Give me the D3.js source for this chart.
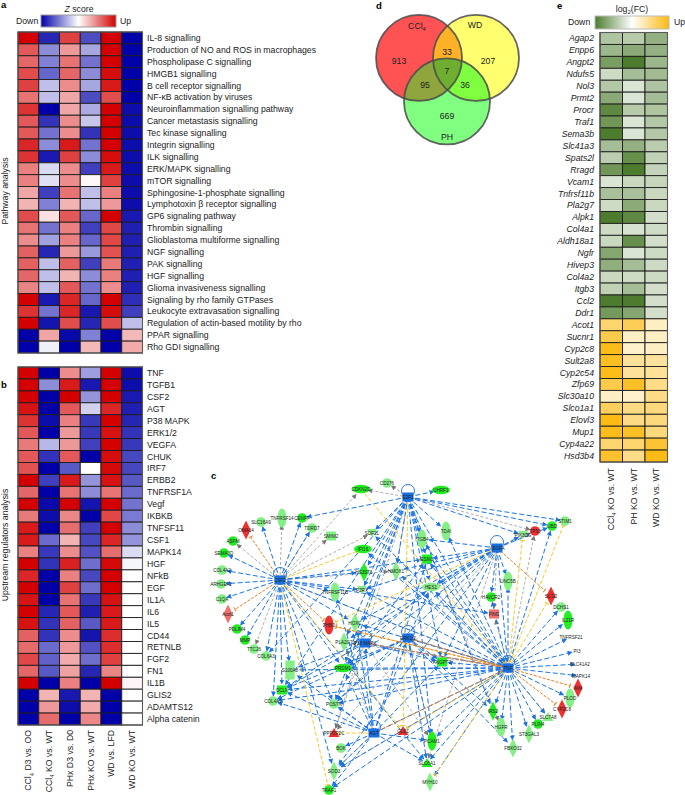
<!DOCTYPE html>
<html><head><meta charset="utf-8">
<script src="https://cdn.jsdelivr.net/npm/d3@7/dist/d3.min.js"></script>
<style>html,body{margin:0;padding:0;background:#fff}svg{display:block;font-family:"Liberation Sans",Arial,sans-serif}</style>
</head><body><svg id="c" width="685" height="795"></svg>
<script>
const pathways=["IL-8 signalling","Production of NO and ROS in macrophages","Phospholipase C signalling","HMGB1 signalling","B cell receptor signalling","NF-κB activation by viruses","Neuroinflammation signalling pathway","Cancer metastasis signalling","Tec kinase signalling","Integrin signalling","ILK signalling","ERK/MAPK signalling","mTOR signalling","Sphingosine-1-phosphate signalling","Lymphotoxin β receptor signalling","GP6 signaling pathway","Thrombin signalling","Glioblastoma multiforme signalling","NGF signalling","PAK signalling","HGF signalling","Glioma invasiveness signalling","Signaling by rho family GTPases","Leukocyte extravasation signalling","Regulation of actin-based motility by rho","PPAR signalling","Rho GDI signalling"];
const pathwayZ=[[1,-.85,.75,-.7,1,-1],[.65,-.45,.4,-.35,1,-1],[.6,-.5,.55,-.55,1,-1],[.7,-.6,.6,-.45,.95,-1],[.75,-.25,.45,-.35,.9,-1],[.55,-.25,.35,-.7,.7,-1],[.8,-1,.35,-.33,1,-.95],[.65,-.8,.45,-.22,1,-.95],[.65,-.55,.45,-.8,1,-.95],[.85,-.45,.9,-.55,1,-.95],[.8,-.9,.75,-.45,.95,-.95],[.5,-.15,.45,-.75,.9,-.95],[.5,-.12,.45,.03,.75,-.95],[.35,-.75,.55,-.25,.5,-.95],[.3,-.5,.3,-.25,.4,-.95],[.7,.12,.65,-.6,1,-.9],[.55,-.55,.5,-.75,.72,-.88],[.45,-.37,.5,-.6,.72,-.88],[.62,-.85,.4,-.4,.68,-.88],[.62,-.25,.62,-.75,.52,-.88],[.6,-.25,.3,-.45,.5,-.88],[.48,-.25,.65,-.55,.45,-.88],[1,-.9,.85,-.6,1,-.82],[.8,-.55,.85,-.9,.95,-.75],[1,-.92,.7,-.85,.7,-.25],[-1,.35,-.97,-.5,-1,.28],[-1,-.06,-1,.28,-1,.33]];
const regulators=["TNF","TGFB1","CSF2","AGT","P38 MAPK","ERK1/2","VEGFA","CHUK","IRF7","ERBB2","TNFRSF1A","Vegf","IKBKB","TNFSF11","CSF1","MAPK14","HGF","NFkB","EGF","IL1A","IL6","IL5","CD44","RETNLB","FGF2","FN1","IL1B","GLIS2","ADAMTS12","Alpha catenin"];
const regulatorZ=[[1,-1,.45,-.38,1,-.95],[1,-.45,.9,-.9,1,-.95],[1,-1,1,-.42,1,-.9],[.93,-1,.65,-.18,.85,-.88],[.8,-.95,.5,-.78,1,-.85],[.65,-1,.4,-.78,.93,-.8],[.52,-.28,.4,-.75,1,-.78],[.65,-.8,.65,-1,.95,-.72],[.68,-1,-.65,0,.97,-.72],[1,-.75,.9,-.42,.93,-.65],[.6,-1,.55,-.45,.55,-.58],[1,-.97,1,-.92,1,-.55],[.52,-.95,.47,-1,.72,-.52],[.9,-1,.57,-.75,1,-.45],[.9,-.58,.3,-.72,.85,-.42],[.5,-.78,.45,-.68,.57,-.14],[1,-.8,.87,-.57,.97,-.04],[.85,-1,.5,-.72,1,0],[1,-1,.75,-.57,1,0],[.92,-1,.55,-.78,.93,0],[1,-.85,.65,-.88,.9,0],[.93,-.8,.62,-.65,.9,0],[.62,-.8,.45,-.92,.82,0],[.58,-.58,.4,-.68,.82,0],[.72,-.62,.33,-.57,.75,0],[.6,-.65,.37,-.85,.48,0],[1,-1,.5,-1,1,.04],[-1,.3,-.9,.3,-1,0],[-1,.4,-.95,.33,-1,0],[-1,.58,-1,.47,-1,0]];
const comparisons=[["CCl","4"," D3 vs. OO"],["CCl","4"," KO vs. WT"],["PHx D3 vs. D0"],["PHx KO vs. WT"],["WD vs. LFD"],["WD KO vs. WT"]];
const genes=["Agap2","Enpp6","Angpt2","Ndufs5","Nol3","Prmt2","Procr","Traf1","Sema3b","Slc41a3","Spats2l","Rragd","Vcam1","Tnfrsf11b","Pla2g7","Alpk1","Col4a1","Aldh18a1","Ngfr","Hivep3","Col4a2","Itgb3","Ccl2","Ddr1","Acot1","Sucnr1","Cyp2c8","Sult2a8","Cyp2c54","Zfp69","Slc30a10","Slco1a1","Elovl3","Mup1","Cyp4a22","Hsd3b4"];
const geneFC=[[-.45,-.4,-.6],[-.55,-.65,-.6],[-.75,-1,-.55],[-.28,-.5,-.52],[-.42,-.2,-.45],[-.65,-.2,-.5],[-.9,-.4,-.45],[-.8,-.2,-.42],[-1,-.2,-.42],[-.5,-.6,-.38],[-.38,-.85,-.35],[-.8,-1,-.33],[-.2,-.3,-.32],[-.48,-.48,-.3],[-.28,-.65,-.3],[-1,-.9,-.25],[-.28,-.22,-.27],[-.3,-.85,-.25],[-.68,-.2,-.28],[-.62,-.5,-.28],[-.3,-.28,-.28],[-.35,-.5,-.25],[-1,-1,-.25],[-.78,-.68,-.25],[.6,.7,.25],[.75,.25,.25],[.95,.22,.25],[.92,.42,.4],[.95,.42,.42],[.75,.9,.5],[.25,.22,.5],[.68,.52,.55],[.98,.52,.55],[.95,.9,.55],[.6,.6,.85],[.88,.5,.98]];
const geneComparisons=[["CCl","4"," KO vs. WT"],["PH KO vs. WT"],["WD KO vs. WT"]];
const vennCounts=[913,207,669,33,95,36,7];
const vennSets=["CCl4","WD","PH"];
// network: name, layout x, layout y, shape, regulation class
const netNodes=[
["CSF2",80,100,"hub","h"],["E2F1",208,17,"hub","h"],["VEGFA",297,68,"hub","h"],["TNF",308,188,"hub","h"],["AGT",174,253,"hub","h"],["P38 MAPK",165,163,"hub","h"],["ERK1/2",208,158,"hub","h"],
["CDKN2D",161,9,"ew","u"],["CD276",187,3,"c","l"],["SLC16A9",61,42,"c","l"],["TNFRSF14",82,38,"et","l"],["CENPF",102,38,"c","u"],["TDRD7",112,48,"c","l"],["SMIM2",131,56,"r","l"],["OMA14",46,50,"d","r"],["ASPM",33,61,"c","u"],["SEMA3D",24,73,"c","u"],["COL4A2",22,90,"c","l"],["ARHGEF2",21,104,"c","l"],["C1QA",22,119,"c","l"],["Acot1",28,134,"d","p"],["PDLIM4",37,149,"c","u"],["MMP",45,160,"c","u"],["TTC26",54,169,"c","l"],["COL6A3",66,176,"c","l"],["S100A8",90,190,"rt","l"],["OCLN",82,210,"r","u"],["COL4A1",73,221,"c","l"],["POSTN",134,224,"c","l"],["PRDM1",143,188,"ew","u"],["PPP2R2C",134,253,"t","r"],["BOK",141,268,"c","l"],["SOD3",134,291,"d","l"],["TRAF1",129,310,"c","u"],["PLA2G7",144,162,"d","l"],["THBD",129,145,"et","r"],["HOXC",155,143,"d","l"],["TNFRSF11B",135,112,"et","l"],["P2RX",162,110,"v","l"],["IFI16",163,69,"ew","u"],["HS3ST1",164,92,"d","u"],["SDF2L",172,53,"v","l"],
["UHRF1",241,10,"ew","u"],["ITGB4",222,59,"et","l"],["TDAI",246,51,"et","l"],["ESM1",227,79,"r","u"],["HMOX1",196,91,"d","l"],["HES1",231,107,"ew","l"],["PIK3CG",323,55,"v","l"],["TP53",335,51,"c","r"],["UBD",352,46,"c","u"],["STIM1",365,41,"c","l"],["UNC5B",308,101,"et","l"],["HAVCR2",291,117,"c","u"],["PIM2",294,134,"r","p"],["SCG2",351,116,"d","r"],["DCHS1",361,127,"c","l"],["IL21R",368,140,"et","u"],["TNFRSF21",371,157,"c","w"],["PI3",377,171,"c","w"],["SLC41A2",380,184,"c","w"],["MAPK14",381,196,"c","w"],["AIM",378,208,"d","r"],["PLOD",370,218,"et","l"],["CYP2C8",362,229,"d","r"],["SLC7A8",348,237,"t","l"],["PLIN4",338,244,"c","u"],["ST3GAL3",329,254,"d","l"],["HGFR",301,247,"et","l"],["IRS2",293,231,"d","u"],["FBXO32",313,268,"d","l"],["MYH10",230,302,"d","l"],["SLC6A1",227,283,"t","u"],["PCAM1",232,261,"et","u"],["GLB1",203,251,"t","r"],["ANGPT2",242,182,"r","u"]];
const blueEdges=[["CSF2","SEMA3D"],["CSF2","COL4A2"],["CSF2","ARHGEF2"],["CSF2","C1QA"],["CSF2","PDLIM4"],["CSF2","MMP"],["CSF2","SLC16A9"],["CSF2","CENPF"],["CSF2","TDRD7"],["CSF2","COL6A3"],["CSF2","S100A8"],["CSF2","OCLN"],["CSF2","COL4A1"],["CSF2","TNFRSF11B"],["CSF2","POSTN"],["CSF2","PRDM1"],["CSF2","P2RX"],["CSF2","HS3ST1"],["CSF2","HOXC"],["CSF2","PIM2"],["CSF2","ESM1"],["CSF2","TNF"],["CSF2","SOD3"],["CSF2","SLC6A1"],
["E2F1","CENPF"],["E2F1","SDF2L"],["E2F1","HMOX1"],["E2F1","ITGB4"],["E2F1","TDAI"],["E2F1","ESM1"],["E2F1","UHRF1"],["E2F1","POSTN"],["E2F1","PRDM1"],["E2F1","HES1"],["E2F1","ANGPT2"],["E2F1","P2RX"],["E2F1","TNF"],["E2F1","STIM1"],["E2F1","UBD"],["E2F1","PIK3CG"],["E2F1","HS3ST1"],["E2F1","OCLN"],["E2F1","IRS2"],["E2F1","PCAM1"],["E2F1","COL6A3"],["E2F1","PLA2G7"],
["VEGFA","ESM1"],["VEGFA","HES1"],["VEGFA","ITGB4"],["VEGFA","UNC5B"],["VEGFA","HAVCR2"],["VEGFA","PIK3CG"],["VEGFA","UBD"],["VEGFA","OCLN"],["VEGFA","PRDM1"],["VEGFA","HMOX1"],["VEGFA","POSTN"],["VEGFA","SOD3"],["VEGFA","HOXC"],["VEGFA","P2RX"],["VEGFA","TNF"],["VEGFA","ANGPT2"],["VEGFA","PLA2G7"],
["TNF","ITGB4"],["TNF","TDAI"],["TNF","ESM1"],["TNF","HES1"],["TNF","HMOX1"],["TNF","UNC5B"],["TNF","HAVCR2"],["TNF","DCHS1"],["TNF","IL21R"],["TNF","TNFRSF21"],["TNF","PI3"],["TNF","SLC41A2"],["TNF","MAPK14"],["TNF","PLOD"],["TNF","SLC7A8"],["TNF","PLIN4"],["TNF","ST3GAL3"],["TNF","HGFR"],["TNF","IRS2"],["TNF","FBXO32"],["TNF","PCAM1"],["TNF","SLC6A1"],["TNF","ANGPT2"],["TNF","PRDM1"],["TNF","POSTN"],["TNF","OCLN"],["TNF","S100A8"],["TNF","COL4A1"],["TNF","SOD3"],["TNF","TRAF1"],["TNF","UBD"],["TNF","MYH10"],["TNF","P2RX"],["TNF","HOXC"],["TNF","IFI16"],["TNF","SDF2L"],
["AGT","COL4A1"],["AGT","OCLN"],["AGT","POSTN"],["AGT","PRDM1"],["AGT","BOK"],["AGT","SOD3"],["AGT","TRAF1"],["AGT","ESM1"],["AGT","ANGPT2"],["AGT","TNF"],["AGT","HOXC"],["AGT","P38 MAPK"],["AGT","PCAM1"],["AGT","TNFRSF11B"],["AGT","ERK1/2"],["AGT","S100A8"],["AGT","SLC6A1"],
["P38 MAPK","PRDM1"],["P38 MAPK","OCLN"],["P38 MAPK","POSTN"],["P38 MAPK","HOXC"],["P38 MAPK","ANGPT2"],["P38 MAPK","S100A8"],["P38 MAPK","HES1"],["P38 MAPK","ESM1"],["P38 MAPK","TNF"],
["ERK1/2","PRDM1"],["ERK1/2","ANGPT2"],["ERK1/2","OCLN"],["ERK1/2","POSTN"],["ERK1/2","SLC6A1"],["ERK1/2","PCAM1"],["ERK1/2","HES1"],["ERK1/2","FBXO32"],["ERK1/2","TNF"],["ERK1/2","COL4A1"],["ERK1/2","IRS2"]];
const grayEdges=[["CSF2","ASPM"],["CSF2","TNFRSF14"],["CSF2","TDRD7"],["CSF2","SMIM2"],["CSF2","CDKN2D"],["CSF2","TTC26"],["CSF2","HMOX1"],["CSF2","SDF2L"],["E2F1","CDKN2D"],["E2F1","CD276"],["E2F1","TP53"],["E2F1","HMOX1"],["E2F1","HGFR"],["E2F1","PPP2R2C"],["VEGFA","PIM2"],["VEGFA","TP53"],["VEGFA","PPP2R2C"],["VEGFA","SLC6A1"],["TNF","ESM1"],["TNF","PIM2"],["TNF","TP53"],["TNF","SOD3"],["TNF","SLC7A8"],["TNF","PLA2G7"],["TNF","HES1"],["AGT","PLA2G7"],["AGT","SOD3"],["ERK1/2","PCAM1"],["P38 MAPK","PPP2R2C"],["P38 MAPK","PCAM1"],["TNF","CSF2"]];
const orangeEdges=[["CSF2","OMA14"],["CSF2","Acot1"],["CSF2","THBD"],["VEGFA","SCG2"],["TNF","CYP2C8"],["TNF","AIM"],["TNF","THBD"],["AGT","TNF"],["TNF","ERK1/2"],["TNF","P38 MAPK"]];
const yellowEdges=[["CSF2","IFI16"],["CSF2","TRAF1"],["CSF2","GLB1"],["CDKN2D","TNF"],["VEGFA","THBD"],["TNF","SCG2"],["TNF","PIK3CG"],["TNF","STIM1"],["TNF","MYH10"],["TNF","GLB1"],["AGT","PPP2R2C"],["TNF","THBD"],["E2F1","GLB1"]];

const nodeFill={h:"#1a6fdc",u:"#22ee22",l:"#84ef84",r:"#ee3030",p:"#f07070",w:"none"};
const svg=d3.select("#c");
const defs=svg.append("defs");
const ink="#222";
const fs=8.7;
function sub(sel,parts,size){parts.forEach((p,i)=>{const t=sel.append("tspan").text(p);if(i===1)t.attr("font-size",size*.68).attr("dy",size*.25);if(i===2)t.attr("dy",-size*.25);});}
function letter(t,x,y){svg.append("text").attr("x",x).attr("y",y).attr("font-weight","bold").attr("font-size",9.5).attr("fill","#000").text(t);}
function gradient(id,cols){const g=defs.append("linearGradient").attr("id",id);cols.forEach((c,i)=>g.append("stop").attr("offset",i/(cols.length-1)).attr("stop-color",c));}
const zCols=["#0000a8","#ffffff","#d40000"],fcCols=["#4d7c2e","#ffffff","#fcb90f"];
gradient("gz",zCols);gradient("gf",fcCols);

function heat(rows,vals,x0,x1,y0,y1,color,labelX,anchor,italic){
  const nc=vals[0].length;
  const x=d3.scaleBand().domain(d3.range(nc)).range([x0,x1]);
  const y=d3.scaleBand().domain(rows).range([y0,y1]);
  const g=svg.append("g");
  rows.forEach((r,i)=>{
    g.selectAll(null).data(vals[i]).join("rect").attr("x",(d,j)=>x(j)).attr("y",y(r)).attr("width",x.bandwidth()).attr("height",y.bandwidth())
     .attr("fill",d=>color(d)).attr("stroke","#1c1c1c").attr("stroke-width",.9);
  });
  g.append("rect").attr("x",x0).attr("y",y0).attr("width",x1-x0).attr("height",y1-y0).attr("fill","none").attr("stroke","#5a5a5a").attr("stroke-width",1.1);
  svg.append("g").selectAll("text").data(rows).join("text").attr("x",labelX).attr("y",d=>y(d)+y.bandwidth()/2+3).attr("text-anchor",anchor)
    .attr("font-size",fs).attr("fill",ink).attr("font-style",italic?"italic":"normal").text(d=>d);
  return x;
}
const zColor=d3.scaleLinear().domain([-1,0,1]).range(zCols);
const fcColor=d3.scaleLinear().domain([-1,0,1]).range(fcCols);
const xa=heat(pathways,pathwayZ,18,142.5,32,353,zColor,147,"start");
heat(regulators,regulatorZ,18,142.5,367,725,zColor,147,"start");
const xe=heat(genes,geneFC,600,667.5,32.5,462,fcColor,594,"end",true);

function colLabels(list,x,top){
  list.forEach((parts,i)=>{
    const t=svg.append("text").attr("transform",`translate(${x(i)+x.bandwidth()/2+3},${top}) rotate(-90)`).attr("text-anchor","end").attr("font-size",fs).attr("fill",ink);
    sub(t,parts,fs);
  });
}
colLabels(comparisons,xa,730);
colLabels(geneComparisons,xe,468);

function vlabel(t,x,y){svg.append("text").attr("transform",`translate(${x},${y}) rotate(-90)`).attr("text-anchor","middle").attr("font-size",fs).attr("fill",ink).text(t);}
vlabel("Pathway analysis",8,191);
vlabel("Upstream regulators analysis",8,545);

// legends
function txt(t,x,y,a){return svg.append("text").attr("x",x).attr("y",y).attr("text-anchor",a||"start").attr("font-size",fs).attr("fill",ink).text(t);}
const zl=svg.append("text").attr("x",79).attr("y",12).attr("text-anchor","middle").attr("font-size",fs).attr("fill",ink);
zl.append("tspan").attr("font-style","italic").text("Z");zl.append("tspan").text(" score");
txt("Down",16,24);txt("Up",120,24);
svg.append("rect").attr("x",41).attr("y",15).attr("width",75).attr("height",12).attr("fill","url(#gz)").attr("stroke","#999").attr("stroke-width",1);
const fl=svg.append("text").attr("x",632).attr("y",12).attr("text-anchor","middle").attr("font-size",fs).attr("fill",ink);
sub(fl,["log","2","(FC)"],fs);
txt("Down",568,25);txt("Up",674,25);
svg.append("rect").attr("x",595).attr("y",16).attr("width",74).attr("height",13).attr("fill","url(#gf)").attr("stroke","#bbb").attr("stroke-width",1);

letter("a",1,8);letter("b",1,388);letter("c",211,479);letter("d",376,9);letter("e",557,9);

// venn
const vR=d3.scaleLinear().domain([0,1]).range([0,43]);
const vennX=d3.scaleLinear().domain([0,100]).range([376,518]);
const vennY=d3.scaleLinear().domain([0,100]).range([15,144]);
const circles=[{id:"vA",cx:30.3,cy:33.3,f:"#ff5252"},{id:"vB",cx:70.4,cy:33.3,f:"#ffff70"},{id:"vC",cx:50,cy:67,f:"#80ff80"}];
const vg=svg.append("g");
circles.forEach(c=>{defs.append("clipPath").attr("id",c.id).append("circle").attr("cx",vennX(c.cx)).attr("cy",vennY(c.cy)).attr("r",vR(1));});
circles.forEach(c=>vg.append("circle").attr("cx",vennX(c.cx)).attr("cy",vennY(c.cy)).attr("r",vR(1)).attr("fill",c.f));
function lens(a,b,f,extra){const w=vg.append("g").attr("clip-path",`url(#${a.id})`);const w2=extra?w.append("g").attr("clip-path",`url(#${extra.id})`):w;w2.append("circle").attr("cx",vennX(b.cx)).attr("cy",vennY(b.cy)).attr("r",vR(1)).attr("fill",f);}
lens(circles[0],circles[1],"#ffb228");lens(circles[0],circles[2],"#8fa63e");lens(circles[1],circles[2],"#80ff40");lens(circles[0],circles[1],"#6fae30",circles[2]);
circles.forEach(c=>vg.append("circle").attr("cx",vennX(c.cx)).attr("cy",vennY(c.cy)).attr("r",vR(1)).attr("fill","none").attr("stroke","#4a4a4a").attr("stroke-width",1.8).attr("stroke-opacity",.85));
const vennPos=[[399,61],[488,61],[447,116],[447,52],[425,85],[465,85],[447,71]];
vennCounts.forEach((v,i)=>txt(v,vennPos[i][0],vennPos[i][1]+3,"middle"));
const cl=svg.append("text").attr("x",417).attr("y",29).attr("text-anchor","middle").attr("font-size",fs).attr("fill",ink);sub(cl,["CCl","4"],fs);
txt(vennSets[1],475,28,"middle");txt(vennSets[2],447,140,"middle");

// network
const nx=d3.scaleLinear().domain([0,400]).range([200,600]);
const ny=d3.scaleLinear().domain([0,320]).range([480,800]);
const byName=new Map(netNodes.map(n=>[n[0],n]));
const radius={hub:6,c:5,ew:7,et:7,r:6,rt:9,d:8,t:5,v:5};
function marker(id,col,tbar){
  const m=defs.append("marker").attr("id",id).attr("viewBox","0 0 6 6").attr("refX",5.5).attr("refY",3).attr("markerWidth",5).attr("markerHeight",5).attr("markerUnits","userSpaceOnUse").attr("orient","auto");
  if(tbar)m.append("path").attr("d","M5 0V6").attr("stroke",col).attr("stroke-width",1.2);
  else m.append("path").attr("d","M0 0L6 3L0 6Z").attr("fill",col);
}
marker("mb","#1a74e8");marker("mg","#777");marker("mo","#ef7d22",true);marker("my","#f4c51e",true);
const eg=svg.append("g").attr("fill","none");
function edges(list,col,mk,w,dash){
  eg.append("g").selectAll("line").data(list).join("line").each(function(e){
    const a=byName.get(e[0]),b=byName.get(e[1]);
    const x1=nx(a[1]),y1=ny(a[2]),x2=nx(b[1]),y2=ny(b[2]);
    const L=Math.hypot(x2-x1,y2-y1)||1,r=radius[b[3]];
    d3.select(this).attr("x1",x1).attr("y1",y1).attr("x2",x2-(x2-x1)/L*r).attr("y2",y2-(y2-y1)/L*r);
  }).attr("stroke",col).attr("stroke-width",w).attr("stroke-dasharray",dash).attr("marker-end",`url(#${mk})`);
}
edges(grayEdges,"#8a8a8a","mg",.7,"3,2");
edges(blueEdges,"#1a74e8","mb",1,"5,2.5");
edges(yellowEdges,"#f6cb2c","my",1,"4,2");
edges(orangeEdges,"#ef7d22","mo",1,"3,1.5");
const ng=svg.append("g");
netNodes.forEach(n=>{
  const x=nx(n[1]),y=ny(n[2]),f=nodeFill[n[4]],s=n[3];
  const g=ng.append("g").attr("transform",`translate(${x},${y})`);
  if(s==="hub"){
    g.append("circle").attr("cy",-6).attr("r",6.5).attr("fill","none").attr("stroke","#1a6fdc").attr("stroke-width",.9);
    g.append("rect").attr("x",-5.5).attr("y",-4.5).attr("width",11).attr("height",9).attr("fill",f);
  } else if(s==="c"){ if(f!=="none")g.append("circle").attr("r",4.8).attr("fill",f);}
  else if(s==="ew")g.append("ellipse").attr("rx",9).attr("ry",4.2).attr("fill",f);
  else if(s==="et")g.append("ellipse").attr("rx",4.5).attr("ry",9.5).attr("fill",f);
  else if(s==="r")g.append("rect").attr("x",-5).attr("y",-4.5).attr("width",10).attr("height",9).attr("fill",f);
  else if(s==="rt")g.append("rect").attr("x",-4.7).attr("y",-9.5).attr("width",9.4).attr("height",19).attr("fill",f);
  else if(s==="d")g.append("path").attr("d","M0 -9.5L4.7 0L0 9.5L-4.7 0Z").attr("fill",f);
  else if(s==="t")g.append("path").attr("d","M0 -5L5.5 4L-5.5 4Z").attr("fill",f);
  else if(s==="v")g.append("path").attr("d","M0 4L5 -4L-5 -4Z").attr("fill",f);
  g.append("text").attr("text-anchor","middle").attr("y",1.7).attr("font-size",4.6).attr("fill",s==="hub"?"#123":"#222").text(n[0]);
});
</script></body></html>
